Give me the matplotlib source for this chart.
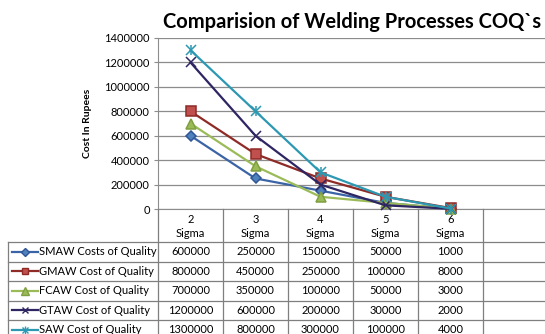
import matplotlib.pyplot as plt

# chart data
categories = ["2\nSigma", "3\nSigma", "4\nSigma", "5\nSigma", "6\nSigma"]
series_names = ["SMAW Costs of Quality", "GMAW Cost of Quality", "FCAW Cost of Quality",
                "GTAW Cost of Quality", "SAW Cost of Quality"]
smaw = [600000, 250000, 150000, 50000, 1000]
gmaw = [800000, 450000, 250000, 100000, 8000]
fcaw = [700000, 350000, 100000, 50000, 3000]
gtaw = [1200000, 600000, 200000, 30000, 2000]
saw = [1300000, 800000, 300000, 100000, 4000]

plt.rcParams["font.family"] = ["Lato", "DejaVu Sans"]

W, H = 545, 334
fig = plt.figure(figsize=(W / 100, H / 100), dpi=100)
fig.patch.set_facecolor("white")

# styles per series: line colour, marker, marker face, marker edge, size
styles = [
    dict(color="#3B64A6", marker="D", mfc="#4F81BD", mec="#2F5597", ms=5),
    dict(color="#8E2B27", marker="s", mfc="#C0504D", mec="#8E2B27", ms=6.5),
    dict(color="#9BBB59", marker="^", mfc="#9BBB59", mec="#7F9F40", ms=7),
    dict(color="#2E2563", marker="x", mfc="#2E2563", mec="#2E2563", ms=6.5),
    dict(color="#2C98B2", marker="x", mfc="#2C98B2", mec="#2C98B2", ms=6.5),
]
data = [smaw, gmaw, fcaw, gtaw, saw]
ncols = 6  # the category axis has one extra empty slot
fs = 8

ax = fig.add_axes([158 / W, 1 - 209 / H, 390 / W, (209 - 38) / H])
x = list(range(len(categories)))
for vals, st in zip(data, styles):
    ax.plot(x, vals, color=st["color"], lw=1.6, marker=st["marker"], ms=st["ms"],
            mfc=st["mfc"], mec=st["mec"], mew=1.1, clip_on=False, zorder=3)
# asterisk marker of SAW = x plus a vertical bar
ax.plot(x, saw, ls="none", marker="|", ms=7.5, mec=styles[4]["mec"], mew=1.1,
        clip_on=False, zorder=3)

ax.set_xlim(-0.5, ncols - 0.5)
ax.set_ylim(0, 1400000)
ax.set_yticks(range(0, 1400001, 200000))
ax.set_yticklabels([str(v) for v in range(0, 1400001, 200000)], fontsize=fs)
ax.set_xticks([])
ax.yaxis.grid(True, color="#8C8C8C", lw=0.9)
ax.set_axisbelow(True)
for s in ["top", "right"]:
    ax.spines[s].set_visible(False)
ax.spines["left"].set_color("#8C8C8C")
ax.spines["bottom"].set_color("#8C8C8C")
ax.tick_params(axis="y", length=3, color="#8C8C8C", pad=3)
ax.set_ylabel("Cost In Rupees", fontsize=7.5, fontweight="bold", labelpad=9)

fig.text(352 / W, 1 - 22 / H, "Comparision of Welding Processes COQ`s",
         fontsize=14.5, fontweight="bold", ha="center", va="center")

# data table below the plot, laid out in pixel units
tax = fig.add_axes([0, 0, 1, (H - 209) / H])
tax.set_xlim(0, W)
tax.set_ylim(H, 209)
tax.axis("off")

lc = "#7F7F7F"
x0, xl, cw = 8, 158, 65
head_bot, rh = 242, 19.5
col_edges = [xl + cw * i for i in range(ncols + 1)]
row_edges = [head_bot + rh * i for i in range(len(series_names) + 1)]

for xe in col_edges:
    tax.plot([xe, xe], [209, H + 5], color=lc, lw=0.9, clip_on=False)
tax.plot([x0, x0], [head_bot, H + 5], color=lc, lw=0.9, clip_on=False)
for ye in row_edges:
    tax.plot([x0, W + 5], [ye, ye], color=lc, lw=0.9, clip_on=False)

for i, cat in enumerate(categories):
    tax.text(xl + cw * (i + 0.5), (209 + head_bot) / 2 + 1, cat, ha="center",
             va="center", fontsize=fs, linespacing=1.35)

for r, (name, vals, st) in enumerate(zip(series_names, data, styles)):
    yc = head_bot + rh * (r + 0.5)
    tax.plot([12, 38], [yc, yc], color=st["color"], lw=1.6, clip_on=False)
    tax.plot([25], [yc], ls="none", marker=st["marker"], ms=st["ms"] * 0.75,
             mfc=st["mfc"], mec=st["mec"], mew=1.0, clip_on=False)
    if r == 4:
        tax.plot([25], [yc], ls="none", marker="|", ms=5.5, mec=st["mec"],
                 mew=1.0, clip_on=False)
    tax.text(39, yc, name, ha="left", va="center", fontsize=fs)
    for i, v in enumerate(vals):
        tax.text(xl + cw * (i + 0.5), yc, str(v), ha="center", va="center",
                 fontsize=fs)

fig.savefig("out.png", dpi=100)
